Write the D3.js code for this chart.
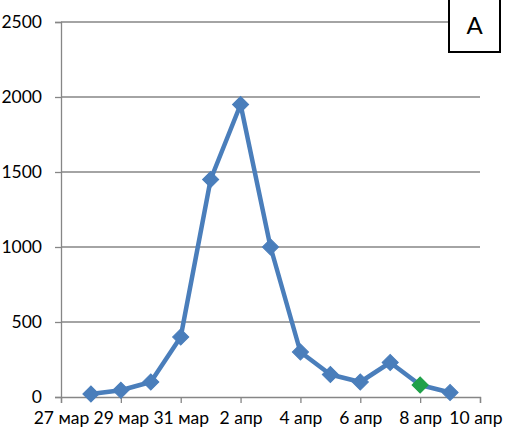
<!DOCTYPE html>
<html><head><meta charset="utf-8">
<script src="https://cdn.jsdelivr.net/npm/d3@7"></script>
<style>body{margin:0;background:#fff}svg{display:block}</style>
</head><body>
<svg id="c" width="505" height="430"></svg>
<script>
const days = ["2020-03-28","2020-03-29","2020-03-30","2020-03-31","2020-04-01","2020-04-02","2020-04-03","2020-04-04","2020-04-05","2020-04-06","2020-04-07","2020-04-08","2020-04-09"];
const values = [20, 45, 100, 400, 1450, 1950, 1000, 300, 150, 100, 230, 80, 30];
const highlighted = ["2020-04-08"];
const yTicks = [0, 500, 1000, 1500, 2000, 2500];
const xTickDates = ["2020-03-27","2020-03-29","2020-03-31","2020-04-02","2020-04-04","2020-04-06","2020-04-08","2020-04-10"];
const monthNames = ["янв","фев","мар","апр","май","июн","июл","авг","сен","окт","ноя","дек"];
const panelLabel = "A";

const parse = d3.utcParse("%Y-%m-%d");
const svg = d3.select("#c");
const font = "Lato, 'Open Sans', sans-serif";
const x = d3.scaleUtc().domain([parse("2020-03-27"), parse("2020-04-10")]).range([61, 480]);
const y = d3.scaleLinear().domain([0, 2500]).range([397, 22]);

// gridlines
svg.append("g").selectAll("line").data(yTicks.filter(d => d > 0)).join("line")
  .attr("x1", 61).attr("x2", 480).attr("y1", d => y(d)).attr("y2", d => y(d))
  .attr("stroke", "#868686").attr("stroke-width", 1.3);

const yAxis = svg.append("g").attr("transform", "translate(61,0)")
  .call(d3.axisLeft(y).tickValues(yTicks).tickSize(6).tickPadding(13).tickFormat(d3.format("d")));
const xAxis = svg.append("g").attr("transform", "translate(0,397)")
  .call(d3.axisBottom(x).tickValues(xTickDates.map(parse)).tickSize(6).tickPadding(9)
    .tickFormat(d => d.getUTCDate() + " " + monthNames[d.getUTCMonth()]));
[yAxis, xAxis].forEach(a => {
  a.selectAll("path,line").attr("stroke", "#868686").attr("stroke-width", 1.3);
  a.selectAll("text").attr("fill", "#000").style("font-family", font).style("font-size", "17.5px");
});
// keep the last x label inside the picture, as the original does
xAxis.selectAll(".tick").each(function(d) {
  const t = d3.select(this).select("text");
  const w = t.node().getComputedTextLength();
  const cx = x(d);
  if (cx + w / 2 > 502) t.attr("x", 502 - w / 2 - cx);
});

const pts = days.map((d, i) => ({date: parse(d), v: values[i], hl: highlighted.includes(d)}));
svg.append("path").datum(pts)
  .attr("d", d3.line().x(d => x(d.date)).y(d => y(d.v)))
  .attr("fill", "none").attr("stroke", "#4a7ebb").attr("stroke-width", 4.5).attr("stroke-linejoin", "round");
svg.append("g").selectAll("path").data(pts).join("path")
  .attr("d", d3.symbol(d3.symbolSquare, 130)())
  .attr("transform", d => `translate(${x(d.date)},${y(d.v)}) rotate(45)`)
  .attr("fill", d => d.hl ? "#1fa04a" : "#4a7ebb")
  .attr("stroke", d => d.hl ? "#1fa04a" : "#4a7ebb").attr("stroke-width", 1);

// panel label box
const g = svg.append("g");
g.append("rect").attr("x", 449).attr("y", -1).attr("width", 51).attr("height", 53)
  .attr("fill", "#fff").attr("stroke", "#000").attr("stroke-width", 2);
g.append("text").attr("x", 474.5).attr("y", 34).attr("text-anchor", "middle")
  .style("font-family", font).style("font-size", "24px").text(panelLabel);
</script>
</body></html>
